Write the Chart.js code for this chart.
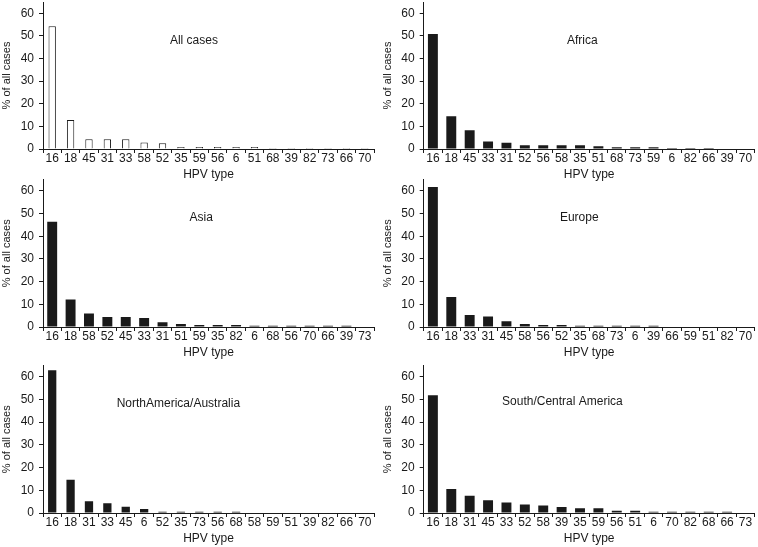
<!DOCTYPE html>
<html>
<head>
<meta charset="utf-8">
<title>HPV type distribution by region</title>
<script src="https://cdn.jsdelivr.net/npm/chart.js@4/dist/chart.umd.min.js"></script>
<style>
  html, body { margin: 0; padding: 0; background: #fff; overflow: hidden; }
  #wrap { position: relative; width: 758px; height: 547px; }
  canvas { position: absolute; }
</style>
</head>
<body>
<div id="wrap">
  <canvas id="c1"></canvas>
  <canvas id="c2"></canvas>
  <canvas id="c3"></canvas>
  <canvas id="c4"></canvas>
  <canvas id="c5"></canvas>
  <canvas id="c6"></canvas>
</div>
<script>
// values (% of all cases)
const allLabels = ["16", "18", "45", "31", "33", "58", "52", "35", "59", "56", "6", "51", "68", "39", "82", "73", "66", "70"];
const allValues = [54.3, 12.8, 4.3, 4.3, 4.3, 2.9, 2.5, 0.9, 0.9, 0.9, 0.9, 0.9, 0.4, 0.4, 0.4, 0.4, 0.4, 0.4];

const africaLabels = ["16", "18", "45", "33", "31", "52", "56", "58", "35", "51", "68", "73", "59", "6", "82", "66", "39", "70"];
const africaValues = [50.8, 14.5, 8.3, 3.3, 2.8, 1.7, 1.7, 1.7, 1.7, 1.2, 0.8, 0.8, 0.8, 0.4, 0.4, 0.4, 0, 0];

const asiaLabels = ["16", "18", "58", "52", "45", "33", "31", "51", "59", "35", "82", "6", "68", "56", "70", "66", "39", "73"];
const asiaValues = [46.4, 12.1, 5.9, 4.4, 4.4, 4.0, 2.1, 1.3, 0.9, 0.9, 0.9, 0.5, 0.5, 0.5, 0.5, 0.5, 0.5, 0];

const europeLabels = ["16", "18", "33", "31", "45", "58", "56", "52", "35", "68", "73", "6", "39", "66", "59", "51", "82", "70"];
const europeValues = [61.7, 13.2, 5.3, 4.6, 2.5, 1.3, 0.9, 0.9, 0.5, 0.5, 0.5, 0.5, 0.5, 0, 0, 0, 0, 0];

const naLabels = ["16", "18", "31", "33", "45", "6", "52", "35", "73", "56", "68", "58", "59", "51", "39", "82", "66", "70"];
const naValues = [62.9, 14.6, 5.2, 4.3, 2.8, 1.8, 0.5, 0.5, 0.5, 0.5, 0.5, 0, 0, 0, 0, 0, 0, 0];

const scLabels = ["16", "18", "31", "45", "33", "52", "58", "39", "35", "59", "56", "51", "6", "70", "82", "68", "66", "73"];
const scValues = [51.9, 10.6, 7.6, 5.6, 4.6, 3.7, 3.3, 2.6, 2.1, 2.1, 1.0, 1.0, 0.5, 0.5, 0.5, 0.5, 0.5, 0];

const yTicks = [0, 10, 20, 30, 40, 50, 60];
const yMax = 65;

const FONT = "'Liberation Sans', Arial, Helvetica, sans-serif";
const INK = "#1a1a1a";

// draws the region name inside the plot area
const panelTitle = {
  id: "panelTitle",
  afterDraw(chart, args, opts) {
    const { ctx, chartArea, scales } = chart;
    ctx.save();
    ctx.font = "12px " + FONT;
    ctx.fillStyle = INK;
    ctx.textAlign = "center";
    ctx.textBaseline = "middle";
    const x = chartArea.left + opts.fx * (chartArea.right - chartArea.left);
    ctx.fillText(opts.text, x, scales.y.getPixelForValue(opts.atValue));
    ctx.restore();
  },
};

const panels = [
  { id: "c1", left: 0, top: 0, w: 378, h: 182, padTop: 2, padRight: 4, yw: 43, titlePad: 0,
    labels: allLabels, values: allValues, name: "All cases", fx: 0.456, at: 48, hollow: true, barPct: 0.4 },
  { id: "c2", left: 378, top: 0, w: 380, h: 182, padTop: 2, padRight: 3.3, yw: 45.7, titlePad: 3,
    labels: africaLabels, values: africaValues, name: "Africa", fx: 0.479, at: 48, barPct: 0.54 },
  { id: "c3", left: 0, top: 178, w: 378, h: 182, padTop: 1.6, padRight: 4, yw: 43, titlePad: 0,
    labels: asiaLabels, values: asiaValues, name: "Asia", fx: 0.478, at: 48, barPct: 0.54 },
  { id: "c4", left: 378, top: 178, w: 380, h: 182, padTop: 1.6, padRight: 3.3, yw: 45.7, titlePad: 3,
    labels: europeLabels, values: europeValues, name: "Europe", fx: 0.47, at: 48, barPct: 0.54 },
  { id: "c5", left: 0, top: 356, w: 378, h: 190, padTop: 9.4, padRight: 4, yw: 43, titlePad: 0,
    labels: naLabels, values: naValues, name: "NorthAmerica/Australia", fx: 0.409, at: 48, barPct: 0.45 },
  { id: "c6", left: 378, top: 356, w: 380, h: 190, padTop: 9.4, padRight: 3.3, yw: 45.7, titlePad: 3,
    labels: scLabels, values: scValues, name: "South/Central America", fx: 0.419, at: 49, barPct: 0.54 },
];

panels.forEach((p) => {
  const canvas = document.getElementById(p.id);
  canvas.width = p.w;
  canvas.height = p.h;
  canvas.style.left = p.left + "px";
  canvas.style.top = p.top + "px";

  new Chart(canvas.getContext("2d"), {
    type: "bar",
    data: {
      labels: p.labels,
      datasets: [
        {
          data: p.values,
          backgroundColor: p.hollow ? "#ffffff" : INK,
          borderColor: INK,
          borderWidth: p.hollow ? 1 : 0,
          categoryPercentage: 1,
          barPercentage: p.barPct,
        },
      ],
    },
    plugins: [panelTitle],
    options: {
      responsive: false,
      animation: false,
      layout: { padding: { top: p.padTop, right: p.padRight, bottom: 0, left: 0 } },
      plugins: {
        legend: { display: false },
        tooltip: { enabled: false },
        panelTitle: { text: p.name, fx: p.fx, atValue: p.at },
      },
      scales: {
        x: {
          grid: { offset: true, drawOnChartArea: false, drawTicks: true, tickLength: 4, color: INK },
          border: { display: true, color: INK, width: 1 },
          ticks: { color: INK, font: { family: FONT, size: 12 }, padding: -1.5, autoSkip: false, maxRotation: 0 },
          title: { display: true, text: "HPV type", color: INK, font: { family: FONT, size: 12 }, padding: 0 },
          afterFit(scale) {
            scale.height = 33;
            scale.paddingLeft = 0;
            scale.paddingRight = 0;
          },
        },
        y: {
          min: 0,
          max: yMax,
          grid: { drawOnChartArea: false, drawTicks: true, tickLength: 4, color: INK },
          border: { display: true, color: INK, width: 1 },
          afterBuildTicks(scale) {
            scale.ticks = yTicks.map((v) => ({ value: v }));
          },
          ticks: { color: INK, font: { family: FONT, size: 12 }, padding: 5 },
          title: { display: true, text: "% of all cases", color: INK, font: { family: FONT, size: 11 }, padding: { top: p.titlePad, bottom: 0 } },
          afterFit(scale) {
            scale.width = p.yw;
            scale.paddingTop = 0;
            scale.paddingBottom = 0;
          },
        },
      },
    },
  });
});
</script>
</body>
</html>
